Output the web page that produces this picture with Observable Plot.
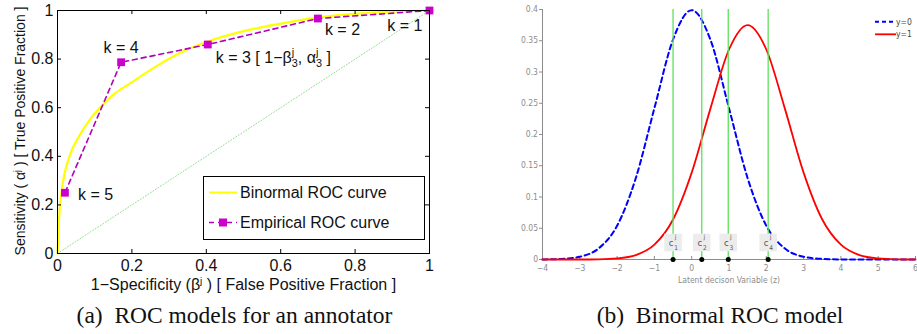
<!DOCTYPE html>
<html><head><meta charset="utf-8">
<script src="https://cdn.jsdelivr.net/npm/d3@7"></script>
<script src="https://cdn.jsdelivr.net/npm/@observablehq/plot@0.6"></script>
<style>
body{margin:0;background:#fff;}
#wrap{position:relative;width:917px;height:334px;overflow:hidden;background:#fff;}
.panel{position:absolute;top:0;}
.cap{position:absolute;top:302px;font-family:"Liberation Serif","Times New Roman",serif;font-size:23.5px;line-height:26px;text-align:center;color:#111;white-space:nowrap;}
</style></head><body><div id="wrap">
<div id="pa" class="panel" style="left:0px"></div>
<div id="pb" class="panel" style="left:480px"></div>
<div class="cap" style="left:0px;width:469px">(a)&nbsp; ROC models for an annotator</div>
<div class="cap" style="left:480px;width:480px;">(b)&nbsp; Binormal ROC model</div>
</div>
<script>
// ---------- Panel (a): ROC curves ----------
const binormalFPF = [0, 0.004, 0.0125, 0.03, 0.057, 0.084, 0.111, 0.147, 0.2, 0.263, 0.33, 0.4, 0.5, 0.6, 0.7, 0.833, 1];
const binormalTPF = [0, 0.14, 0.27, 0.39, 0.48, 0.545, 0.595, 0.65, 0.705, 0.768, 0.826, 0.87, 0.915, 0.946, 0.972, 0.99, 1];
const empiricalK   = [1, 2, 3, 4, 5];
const empiricalFPF = [1, 0.70, 0.404, 0.171, 0.02];
const empiricalTPF = [1, 0.967, 0.86, 0.787, 0.25];
const kLabels = ["k = 1", "k = 2", "k = 3 [ 1−β^j_3, α^j_3 ]", "k = 4", "k = 5"];
const chanceFPF = [0, 1];
const chanceTPF = [0, 1];
const rocTicks = [0, 0.2, 0.4, 0.6, 0.8, 1];
const rocLegend = ["Binormal ROC curve", "Empirical ROC curve"];
const rocXLabel = "1−Specificity (β^j ) [ False Positive Fraction ]";
const rocYLabel = "Sensitivity ( α^j ) [ True Positive Fraction ]";

// ---------- Panel (b): binormal densities ----------
const zGrid      = [-4, -3.5, -3, -2.5, -2, -1.5, -1, -0.5, 0, 0.5, 1, 1.5, 2, 2.5, 3, 3.5, 4, 4.5, 5, 5.5, 6];
const densityY0  = [0.0001, 0.0009, 0.0044, 0.0175, 0.054, 0.13, 0.242, 0.352, 0.399, 0.352, 0.242, 0.13, 0.054, 0.0175, 0.0044, 0.0009, 0.0001, 0, 0, 0, 0];
const densityY1  = [0, 0, 0, 0.0003, 0.0017, 0.007, 0.0237, 0.064, 0.139, 0.241, 0.336, 0.375, 0.336, 0.241, 0.139, 0.064, 0.0237, 0.007, 0.0017, 0.0003, 0];
const cutoffs    = [-0.5, 0.27, 0.98, 2.05];
const cutoffIdx  = ["1", "2", "3", "4"];
const zTicks     = [-4, -3, -2, -1, 0, 1, 2, 3, 4, 5, 6];
const densTicks  = [0, 0.05, 0.1, 0.15, 0.2, 0.25, 0.3, 0.35, 0.4];
const densLegend = ["y=0", "y=1"];
const densXLabel = "Latent decison Variable (z)";

// ---------- helpers ----------
const fmt = d => String(+d.toFixed(3));
function richText(svgEl) {
  const ns = "http://www.w3.org/2000/svg";
  svgEl.querySelectorAll("text").forEach(t => {
    const s = t.textContent;
    if (!/\^/.test(s)) return;
    const fs = parseFloat(window.getComputedStyle(t).fontSize) || 16;
    t.textContent = "";
    let pending = 0, last = 0, m;
    const re = /\^(\w)(?:_(\w))?/g;
    const add = (txt, attrs = {}) => {
      const ts = document.createElementNS(ns, "tspan");
      ts.textContent = txt;
      for (const k in attrs) ts.setAttribute(k, attrs[k]);
      t.appendChild(ts);
      return ts;
    };
    while ((m = re.exec(s))) {
      if (m.index > last) { add(s.slice(last, m.index), pending ? {dy: pending} : {}); pending = 0; }
      if (m[2]) {
        const small = +(fs * 0.68).toFixed(2);
        const sup = add(m[1], {"font-size": small, dy: pending - fs * 0.42});
        const w = sup.getComputedTextLength();
        add(m[2], {"font-size": small, dx: -w, dy: fs * 0.72});
        pending = -fs * 0.30;
      } else {
        const small = +(fs * 0.62).toFixed(2);
        add(m[1], {"font-size": small, dy: pending - fs * 0.34});
        pending = fs * 0.34;
      }
      last = re.lastIndex;
    }
    if (last < s.length) add(s.slice(last), pending ? {dy: pending} : {});
  });
}

// ---------- Panel (a) ----------
const roc = binormalFPF.map((x, i) => ({x, y: binormalTPF[i]}));
const emp = empiricalFPF.map((x, i) => ({x, y: empiricalTPF[i], k: empiricalK[i], label: kLabels[i]}));
const chance = chanceFPF.map((x, i) => ({x, y: chanceTPF[i]}));
const kLabelStyle = {
  1: {dx: -7, dy: 15, textAnchor: "end"},
  2: {dx: 7, dy: 11, textAnchor: "start"},
  3: {dx: 8, dy: 13, textAnchor: "start"},
  4: {dx: 0, dy: -14, textAnchor: "middle"},
  5: {dx: 13, dy: 2, textAnchor: "start"}
};
const A = {w: 440, h: 295, ml: 57, mr: 11, mt: 10, mb: 42};
const fw = A.w - A.ml - A.mr, fh = A.h - A.mt - A.mb;
const purple = "#b000b8";
const left = Plot.plot({
  width: A.w, height: A.h, marginLeft: A.ml, marginRight: A.mr, marginTop: A.mt, marginBottom: A.mb,
  style: {fontFamily: "'Liberation Sans', Arial, Helvetica, sans-serif", fontSize: "16px", color: "#111", background: "transparent", overflow: "visible"},
  x: {domain: [0, 1], ticks: rocTicks, tickFormat: fmt, tickSize: 0, tickPadding: 6, label: null},
  y: {domain: [0, 1], ticks: rocTicks, tickFormat: fmt, tickSize: 0, tickPadding: 4, label: null},
  marks: [
    Plot.line(chance, {x: "x", y: "y", stroke: "#8fe08f", strokeWidth: 1, strokeDasharray: "1,2"}),
    Plot.line(roc, {x: "x", y: "y", stroke: "#ffff00", strokeWidth: 2.2, curve: "monotone-x"}),
    Plot.line(emp, {x: "x", y: "y", stroke: purple, strokeWidth: 1.6, strokeDasharray: "5,4"}),
    Plot.dot(emp, {x: "x", y: "y", symbol: "square", r: 4.4, fill: "#cc00cc", stroke: "none"}),
    ...empiricalK.map(k => Plot.text(emp.filter(d => d.k === k), {x: "x", y: "y", text: "label", fontSize: 16, fill: "#111", ...kLabelStyle[k]})),
    Plot.ruleX(rocTicks, {x: d => d, insetTop: fh - 4, stroke: "#000"}),
    Plot.ruleX(rocTicks, {x: d => d, insetBottom: fh - 4, stroke: "#000"}),
    Plot.ruleY(rocTicks, {y: d => d, insetRight: fw - 4, stroke: "#000"}),
    Plot.ruleY(rocTicks, {y: d => d, insetLeft: fw - 4, stroke: "#000"}),
    Plot.frame({stroke: "#000", strokeWidth: 1}),
    Plot.text([rocXLabel], {frameAnchor: "bottom", lineAnchor: "middle", textAnchor: "middle", dy: 31, fontSize: 16, fill: "#111"}),
    Plot.text([rocYLabel], {frameAnchor: "left", lineAnchor: "middle", textAnchor: "middle", rotate: -90, dx: -37, dy: -1, fontSize: 14, fill: "#111"})
  ]
});
document.getElementById("pa").appendChild(left);
richText(left);
{
  const g = d3.select(left).append("g").attr("text-anchor", "start");
  g.append("rect").attr("x", 203.5).attr("y", 176.5).attr("width", 221).attr("height", 63)
    .attr("fill", "#fff").attr("stroke", "#000").attr("stroke-width", 1);
  g.append("line").attr("x1", 209).attr("x2", 237).attr("y1", 192.5).attr("y2", 192.5)
    .attr("stroke", "#ffff00").attr("stroke-width", 2);
  g.append("line").attr("x1", 209).attr("x2", 237).attr("y1", 222.5).attr("y2", 222.5)
    .attr("stroke", purple).attr("stroke-width", 1.6).attr("stroke-dasharray", "5,4");
  g.append("rect").attr("x", 219).attr("y", 218.5).attr("width", 8).attr("height", 8).attr("fill", "#cc00cc");
  g.selectAll("text.lg").data(rocLegend).join("text").attr("class", "lg")
    .attr("x", 240).attr("y", (d, i) => 192.5 + i * 30).attr("dy", "0.35em")
    .attr("font-size", 16).attr("fill", "#111").text(d => d);
}

// ---------- Panel (b) ----------
const neg = zGrid.map((z, i) => ({z, d: densityY0[i]}));
const pos = zGrid.map((z, i) => ({z, d: densityY1[i]}));
const cuts = cutoffs.map((z, i) => ({z, k: cutoffIdx[i]}));
const B = {w: 437, h: 292, ml: 62, mr: 2, mt: 9, mb: 33};
const bh = B.h - B.mt - B.mb;
const gray = "#8c8c8c";
const narrow = "'Liberation Sans Narrow', 'Arial Narrow', 'DejaVu Sans Condensed', sans-serif";
const right = Plot.plot({
  width: B.w, height: B.h, marginLeft: B.ml, marginRight: B.mr, marginTop: B.mt, marginBottom: B.mb,
  style: {fontFamily: narrow, fontSize: "8.5px", color: gray, background: "transparent", overflow: "visible"},
  x: {domain: [-4, 6], ticks: zTicks, tickFormat: d => d < 0 ? "−" + (-d) : String(d), tickSize: 0, tickPadding: 5, label: null},
  y: {domain: [0, 0.4], ticks: densTicks, tickFormat: fmt, tickSize: 3, tickPadding: 1.5, label: null},
  marks: [
    Plot.ruleX([-4], {stroke: gray}),
    Plot.ruleY([0], {stroke: gray}),
    Plot.ruleX(zTicks, {x: d => d, insetTop: bh - 3, stroke: gray}),
    Plot.line(neg, {x: "z", y: "d", stroke: "#0000ff", strokeWidth: 2, strokeDasharray: "5,3.5", curve: "monotone-x"}),
    Plot.line(pos, {x: "z", y: "d", stroke: "#ff0000", strokeWidth: 1.8, curve: "monotone-x"}),
    Plot.ruleX(cuts, {x: "z", stroke: "#5ee05e", strokeWidth: 1.3}),
    Plot.dot(cuts, {x: "z", y: 0, dy: -17, symbol: "square", r: 9.9, fill: "#ececec", stroke: "none"}),
    Plot.text(cuts, {x: "z", y: 0, text: () => "c", dx: -2, dy: -17, fontSize: 9.5, fill: "#555"}),
    Plot.text(cuts, {x: "z", y: 0, text: () => "j", dx: 2.5, dy: -23, fontSize: 6.5, fill: "#555"}),
    Plot.text(cuts, {x: "z", y: 0, text: "k", dx: 3, dy: -12, fontSize: 6.5, fill: "#555"}),
    Plot.dot(cuts, {x: "z", y: 0, r: 2.5, fill: "#000", stroke: "none"}),
    Plot.text([densXLabel], {frameAnchor: "bottom", lineAnchor: "middle", textAnchor: "middle", dy: 21, fontSize: 8.5, fill: gray})
  ]
});
document.getElementById("pb").appendChild(right);
{
  const g = d3.select(right).append("g").attr("text-anchor", "start");
  g.append("line").attr("x1", 395).attr("x2", 416).attr("y1", 21.7).attr("y2", 21.7)
    .attr("stroke", "#0000ff").attr("stroke-width", 2).attr("stroke-dasharray", "4,3");
  g.append("line").attr("x1", 395).attr("x2", 416).attr("y1", 34.3).attr("y2", 34.3)
    .attr("stroke", "#ff0000").attr("stroke-width", 1.8);
  g.selectAll("text.lg").data(densLegend).join("text").attr("class", "lg")
    .attr("x", 416).attr("y", (d, i) => 21.7 + i * 12.6).attr("dy", "0.35em")
    .attr("font-size", 8.5).attr("fill", "#444").text(d => d);
}
</script></body></html>
